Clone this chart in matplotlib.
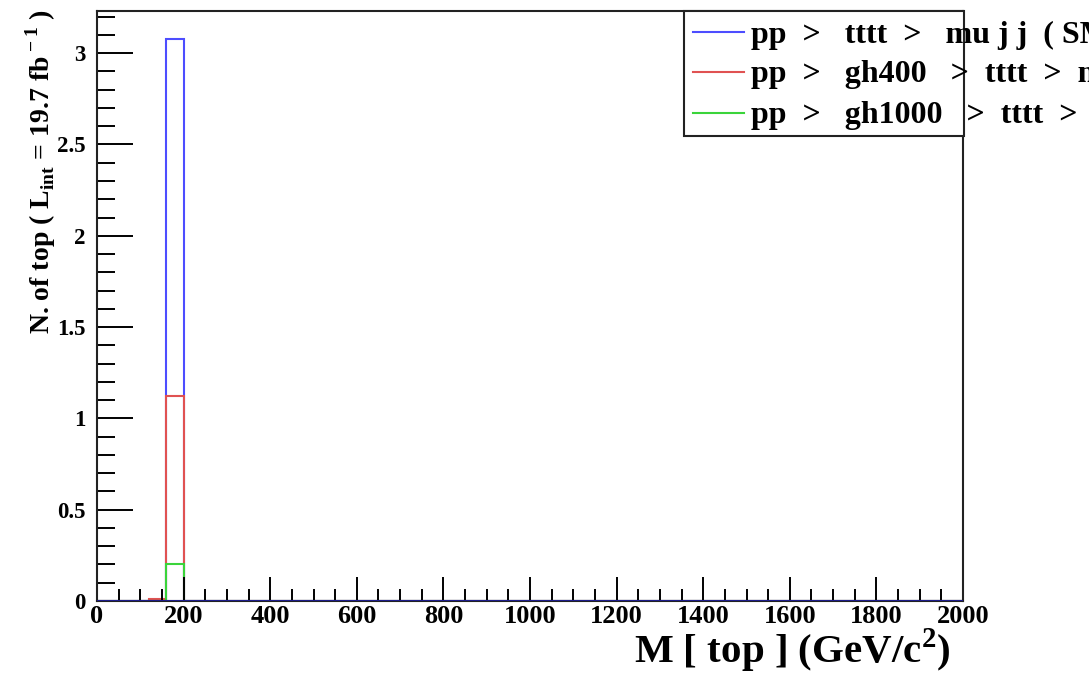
import numpy as np
import matplotlib
matplotlib.use("Agg")
import matplotlib.pyplot as plt
from matplotlib.patches import Rectangle
from matplotlib.lines import Line2D
from matplotlib.ticker import MultipleLocator

plt.rcParams['font.family'] = ['Liberation Serif', 'DejaVu Serif']
plt.rcParams['font.weight'] = 'bold'
plt.rcParams['mathtext.fontset'] = 'custom'
plt.rcParams['mathtext.rm'] = 'Liberation Serif:bold'
plt.rcParams['mathtext.bf'] = 'Liberation Serif:bold'

# top-quark mass histogram, 50 bins of 40 GeV from 0 to 2000
bin_edges = np.arange(0, 2001, 40)
n_bins = len(bin_edges) - 1

# non-empty bins: (bin index, content)
sm_bins = {3: 0.008, 4: 3.08}
gh400_bins = {3: 0.012, 4: 1.12}
gh1000_bins = {4: 0.20}

labels = [
    "pp  >   tttt  >   mu j j  ( SM )",
    "pp  >   gh400   >  tttt  >  mu j j",
    "pp  >   gh1000   >  tttt  >  mu j j",
]
colors = ['#4d4dff', '#e05252', '#3ad43a']


def fill(bins):
    h = np.zeros(n_bins)
    for i, v in bins.items():
        h[i] = v
    return h


hists = [fill(sm_bins), fill(gh400_bins), fill(gh1000_bins)]

fig = plt.figure(figsize=(10.89, 6.88), dpi=100)
ax = fig.add_axes([0.0891, 0.1265, 0.7952, 0.8575])

for h, c in zip(hists, colors):
    ax.stairs(h, bin_edges, color=c, linewidth=1.5, baseline=0)

# baseline where all histograms sit at zero
ax.axhline(0, color='#1c1c8a', linewidth=2.2, zorder=5)

ax.set_xlim(0, 2000)
ax.set_ylim(0, 3.231)

ax.xaxis.set_major_locator(MultipleLocator(200))
ax.xaxis.set_minor_locator(MultipleLocator(50))
ax.yaxis.set_major_locator(MultipleLocator(0.5))
ax.yaxis.set_minor_locator(MultipleLocator(0.1))
ax.yaxis.set_major_formatter(plt.FuncFormatter(lambda v, p: f"{v:g}"))

ax.tick_params(axis='x', which='major', direction='in', length=17, width=1.4,
               labelsize=19, pad=3, top=False)
ax.tick_params(axis='x', which='minor', direction='in', length=9, width=1.4, top=False)
ax.tick_params(axis='y', which='major', direction='in', length=26, width=1.4,
               labelsize=16.5, pad=8, right=False)
ax.tick_params(axis='y', which='minor', direction='in', length=13, width=1.4, right=False)
for lab in ax.get_xticklabels() + ax.get_yticklabels():
    lab.set_fontweight('bold')

for s in ax.spines.values():
    s.set_linewidth(1.5)
    s.set_color('#222222')

fig.text(0.873, 0.036, r"M [ top ] (GeV/c$^{2}$)", fontsize=29.5, fontweight='bold',
         ha='right', va='baseline')
fig.text(0.037, 0.750, r"N. of top ( L$_{\rm int}$ = 19.7 fb$^{\rm -1}$ )", fontsize=20,
         fontweight='bold', rotation=90, ha='center', va='center')

# legend box with entries running past the right edge
fig.patches.append(Rectangle((0.628, 0.802), 0.257, 0.182, transform=fig.transFigure,
                             fill=True, facecolor='white', edgecolor='#222222',
                             linewidth=1.5, zorder=10))
ys = [0.953, 0.895, 0.836]
for y, c, lab in zip(ys, colors, labels):
    fig.lines.append(Line2D([0.636, 0.683], [y, y], transform=fig.transFigure,
                            color=c, linewidth=1.5, zorder=11))
    fig.text(0.690, y - 0.004, lab, fontsize=23, fontweight='bold', ha='left', va='center',
             zorder=12)

fig.savefig("out.png", dpi=100)
